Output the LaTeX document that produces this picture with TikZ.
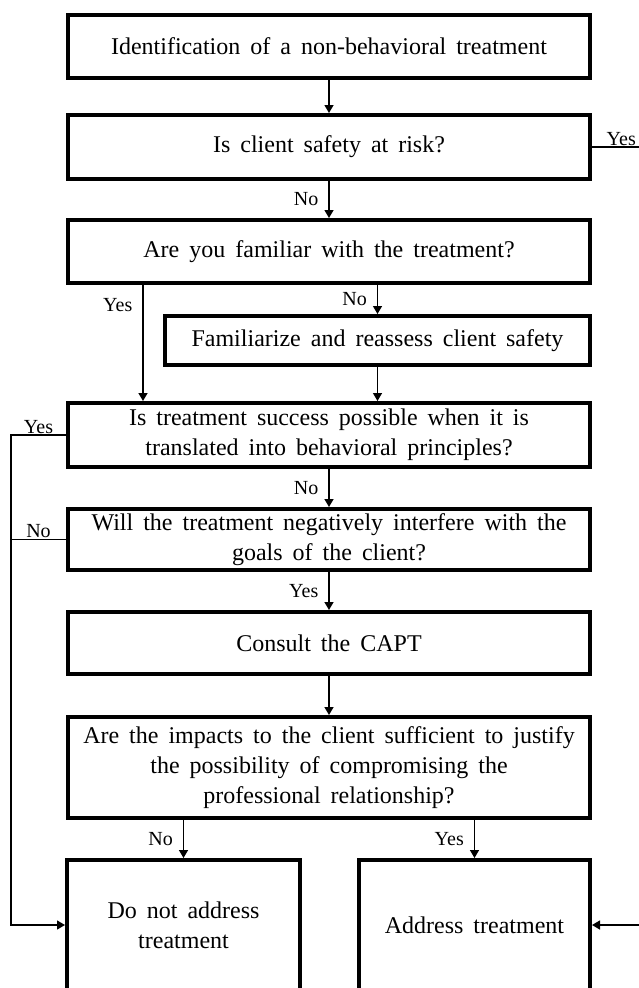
\documentclass[tikz,border=0pt]{standalone}
\usepackage{fontspec}
\setmainfont{Liberation Serif}
\usetikzlibrary{arrows.meta,positioning}

\tikzset{
  flowbox/.style={draw,line width=4pt,align=center,inner sep=0pt,
    font={\fontsize{24}{30}\selectfont\spaceskip=10pt\relax}},
  link/.style={line width=1.4pt,-{Triangle[length=8pt,width=9pt]}},
  rail/.style={line width=1.2pt},
  tag/.style={font=\fontsize{20}{24}\selectfont,inner sep=1pt},
}

\begin{document}
\begin{tikzpicture}[x=1pt,y=-1pt]
\path[use as bounding box] (0,0) rectangle (639,988);
\clip (0,0) rectangle (639,988);
% boxes
\node[flowbox,minimum width=522pt,minimum height=63pt] (ident) at (329,46) {Identification of a non-behavioral treatment};
\node[flowbox,minimum width=522pt,minimum height=64pt] (safety) at (329,147) {Is client safety at risk?};
\node[flowbox,minimum width=522pt,minimum height=63pt] (familiar) at (329,251.5) {Are you familiar with the treatment?};
\node[flowbox,minimum width=425pt,minimum height=49pt] (familiarize) at (377.5,340.5) {Familiarize and reassess client safety};
\node[flowbox,minimum width=522pt,minimum height=64pt] (success) at (329,435) {Is treatment success possible when it is\\translated into behavioral principles?};
\node[flowbox,minimum width=522pt,minimum height=61pt] (interfere) at (329,539.5) {Will the treatment negatively interfere with the\\goals of the client?};
\node[flowbox,minimum width=522pt,minimum height=62pt] (capt) at (329,643) {Consult the CAPT};
\node[flowbox,minimum width=522pt,minimum height=101pt] (impacts) at (329,767.5) {Are the impacts to the client sufficient to justify\\the possibility of compromising the\\professional relationship?};
\node[flowbox,minimum width=233pt,minimum height=130pt] (noaddr) at (183.5,925) {Do not address\\treatment};
\node[flowbox,minimum width=231pt,minimum height=130pt] (addr) at (474.5,925) {Address treatment};
% helper columns
\coordinate (yescol) at (143,0);
\coordinate (railx) at (11,0);
\coordinate (offpage) at (660,0);
% connectors
\draw[link] (ident) -- (safety);
\draw[link] (safety) -- node[tag,left=9pt]{No} (familiar);
\draw[link] (safety.east) -- node[tag,above,pos=.43]{Yes} (safety.east -| offpage) |- (addr.east);
\draw[link] (familiar.south -| familiarize) -- node[tag,left=9pt]{No} (familiarize);
\draw[link] (familiar.south -| yescol) -- node[tag,left=9pt,pos=.17]{Yes} (success.north -| yescol);
\draw[link] (familiarize) -- (familiarize |- success.north);
\draw[link,rail] (success.west) -- node[tag,above]{Yes} (success.west -| railx) |- (noaddr.west);
\draw[rail] (interfere.west) -- node[tag,above]{No} (interfere.west -| railx);
\draw[link] (success) -- node[tag,left=9pt]{No} (interfere);
\draw[link] (interfere) -- node[tag,left=9pt]{Yes} (capt);
\draw[link] (capt) -- (impacts);
\draw[link] (impacts.south -| noaddr) -- node[tag,left=9pt]{No} (noaddr);
\draw[link] (impacts.south -| addr) -- node[tag,left=9pt]{Yes} (addr);
\end{tikzpicture}
\end{document}
